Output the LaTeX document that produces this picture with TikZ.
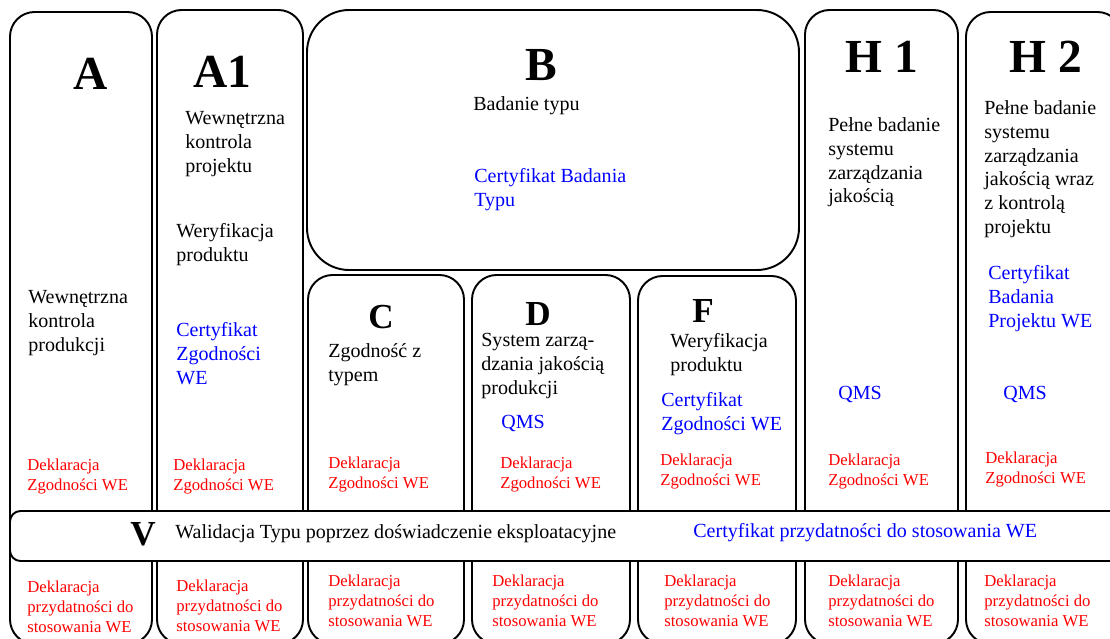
\documentclass[tikz,border=0pt]{standalone}
\usepackage{fontspec}
\setmainfont{Liberation Serif}
\usepackage{tikz}
\usetikzlibrary{positioning}
\newcommand{\tnode}[4]{\node [#1] (#2) at (#3) {#4}}
\tikzset{
  frame/.style={draw, line width=1.1pt, rounded corners=14pt, fill=white},
  txt/.style={anchor=north west, inner sep=0pt, align=left, font=\fontsize{11.4}{13.6}\selectfont},
  cert/.style={txt, text=blue},
  decl/.style={anchor=north west, inner sep=0pt, align=left, text=red, font=\fontsize{9.5}{11}\selectfont},
  fit/.style={decl, font=\fontsize{9.5}{11.3}\selectfont},
  bigtitle/.style={inner sep=0pt, font=\fontsize{27}{29}\selectfont\bfseries},
  midtitle/.style={inner sep=0pt, font=\fontsize{20}{22}\selectfont\bfseries},
}

\begin{document}
\begin{tikzpicture}[x=0.02cm, y=-0.02cm]
\useasboundingbox (0,0) rectangle (1110,639);
\clip (0,0) rectangle (1110,639);

\draw[frame] (10,12) rectangle (152,644);
\draw[frame] (157,10) rectangle (303,644);
\draw[frame, rounded corners=24pt] (307,10) rectangle (799,270);
\draw[frame] (308,275) rectangle (464,644);
\draw[frame] (472,275) rectangle (630,644);
\draw[frame] (638,276) rectangle (796,644);
\draw[frame] (805,10) rectangle (958,644);
\draw[frame] (966,12) rectangle (1122,644);
\draw[frame, rounded corners=6pt] (10,511) rectangle (1125,561);

\tnode{bigtitle}{titleA}{91,74}{A};
\tnode{txt}{prodA}{28,290}{Wewnętrzna\\kontrola\\produkcji};
\tnode{decl}{declA}{27,459}{Deklaracja\\Zgodności WE};
\tnode{fit}{fitA}{27,581}{Deklaracja\\przydatności do\\stosowania WE};

\tnode{bigtitle}{titleAone}{222,72}{A1};
\tnode{txt}{projAone}{185,111}{Wewnętrzna\\kontrola\\projektu};
\tnode{txt}{verAone}{176,223}{Weryfikacja\\produktu};
\tnode{cert}{certAone}{176,322}{Certyfikat\\Zgodności\\WE};
\tnode{decl}{declAone}{173,459}{Deklaracja\\Zgodności WE};
\tnode{fit}{fitAone}{176,580}{Deklaracja\\przydatności do\\stosowania WE};

\tnode{bigtitle}{titleB}{541,65}{B};
\tnode{txt}{typeB}{473,96}{Badanie typu};
\tnode{cert}{certB}{474,168}{Certyfikat Badania\\Typu};

\tnode{midtitle}{titleC}{381,317}{C};
\tnode{txt}{confC}{328,343}{Zgodność z\\typem};
\tnode{decl}{declC}{328,457}{Deklaracja\\Zgodności WE};
\tnode{fit}{fitC}{328,575}{Deklaracja\\przydatności do\\stosowania WE};

\tnode{midtitle}{titleD}{538,314}{D};
\tnode{txt}{qualD}{481,333}{System zarzą-\\dzania jakością\\produkcji};
\tnode{cert}{qmsD}{501,415}{QMS};
\tnode{decl}{declD}{500,457}{Deklaracja\\Zgodności WE};
\tnode{fit}{fitD}{492,575}{Deklaracja\\przydatności do\\stosowania WE};

\tnode{midtitle}{titleF}{703,311}{F};
\tnode{txt}{verF}{670,333}{Weryfikacja\\produktu};
\tnode{cert}{certF}{661,392}{Certyfikat\\Zgodności WE};
\tnode{decl}{declF}{660,454}{Deklaracja\\Zgodności WE};
\tnode{fit}{fitF}{664,575}{Deklaracja\\przydatności do\\stosowania WE};

\tnode{bigtitle}{titleHone}{882,57}{H 1};
\tnode{txt}{qualHone}{828,117}{Pełne badanie\\systemu\\zarządzania\\jakością};
\tnode{cert}{qmsHone}{838,386}{QMS};
\tnode{decl}{declHone}{828,454}{Deklaracja\\Zgodności WE};
\tnode{fit}{fitHone}{828,575}{Deklaracja\\przydatności do\\stosowania WE};

\tnode{bigtitle}{titleHtwo}{1046,57}{H 2};
\tnode{txt}{qualHtwo}{984,100}{Pełne badanie\\systemu\\zarządzania\\jakością wraz\\z kontrolą\\projektu};
\tnode{cert}{certHtwo}{988,265}{Certyfikat\\Badania\\Projektu WE};
\tnode{cert}{qmsHtwo}{1003,386}{QMS};
\tnode{decl}{declHtwo}{985,452}{Deklaracja\\Zgodności WE};
\tnode{fit}{fitHtwo}{984,575}{Deklaracja\\przydatności do\\stosowania WE};

\tnode{midtitle}{titleV}{143,534}{V};
\tnode{txt, anchor=west}{valV}{175,534}{Walidacja Typu poprzez doświadczenie eksploatacyjne};
\tnode{cert, anchor=west}{certV}{693,533}{Certyfikat przydatności do stosowania WE};

\end{tikzpicture}
\end{document}
